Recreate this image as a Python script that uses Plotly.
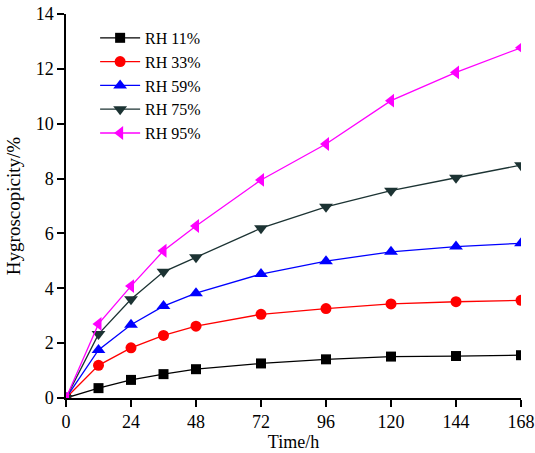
import plotly.graph_objects as go

time_h = [0, 12, 24, 36, 48, 72, 96, 120, 144, 168]
rh11 = [0, 0.36, 0.66, 0.87, 1.05, 1.26, 1.41, 1.51, 1.53, 1.56]
rh33 = [0, 1.19, 1.83, 2.28, 2.62, 3.05, 3.26, 3.43, 3.51, 3.56]
rh59 = [0, 1.75, 2.67, 3.35, 3.82, 4.52, 4.99, 5.33, 5.52, 5.64]
rh75 = [0, 2.33, 3.60, 4.60, 5.13, 6.19, 6.97, 7.56, 8.03, 8.49]
rh95 = [0, 2.70, 4.08, 5.37, 6.27, 7.95, 9.26, 10.84, 11.87, 12.77]

names = ["RH 11%", "RH 33%", "RH 59%", "RH 75%", "RH 95%"]
series = [rh11, rh33, rh59, rh75, rh95]
colors = ["#000000", "#ff0000", "#0000ff", "#1c3333", "#ff00ff"]
symbols = ["square", "circle", "triangle-up", "triangle-down", "triangle-left"]
sizes = [10, 11, 12, 12, 12]

fig = go.Figure()
for n, y, c, s, sz in zip(names, series, colors, symbols, sizes):
    fig.add_trace(go.Scatter(
        x=time_h, y=y, name=n, mode="lines+markers",
        line=dict(color=c, width=1.3),
        marker=dict(color=c, symbol=s, size=sz),
        cliponaxis=True,
    ))

font_family = "Liberation Serif, Times New Roman, serif"
fig.update_layout(
    width=535, height=453,
    margin=dict(l=66, r=14, t=14, b=55),
    paper_bgcolor="white", plot_bgcolor="white",
    font=dict(family=font_family, size=18, color="black"),
    showlegend=True,
    legend=dict(
        x=0.064, y=0.982, xanchor="left", yanchor="top",
        bgcolor="rgba(0,0,0,0)", font=dict(size=16, family=font_family),
        itemwidth=40,
    ),
    xaxis=dict(
        range=[0, 168], tickvals=[0, 24, 48, 72, 96, 120, 144, 168],
        showline=True, linecolor="black", linewidth=1.5,
        ticks="outside", ticklen=7, tickwidth=1.5, tickcolor="black",
        showgrid=False, zeroline=False, automargin=False,
        tickfont=dict(size=18),
        title=dict(text="Time/h", font=dict(size=18), standoff=1),
    ),
    yaxis=dict(
        range=[0, 14], tickvals=[0, 2, 4, 6, 8, 10, 12, 14],
        showline=True, linecolor="black", linewidth=1.5,
        ticks="outside", ticklen=7, tickwidth=1.5, tickcolor="black",
        showgrid=False, zeroline=False, automargin=False,
        tickfont=dict(size=18),
        title=dict(text="Hygroscopicity/%", font=dict(size=19), standoff=10),
    ),
)

fig.write_html("out.html")
